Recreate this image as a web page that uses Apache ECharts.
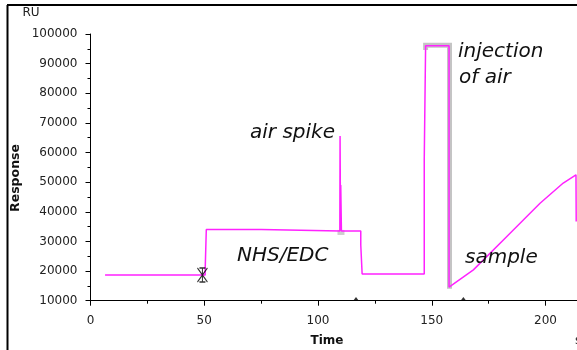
<!DOCTYPE html>
<html>
<head>
<meta charset="utf-8">
<script src="https://cdn.jsdelivr.net/npm/echarts@6/dist/echarts.min.js"></script>
<style>html,body{margin:0;padding:0;background:#fff}#c{width:577px;height:350px}</style>
</head>
<body>
<div id="c"></div>
<script>
// Sensorgram trace (time in s, response in RU)
const timeSec = [6.4, 50.4, 50.4, 50.9, 50.9, 75.0, 75.2, 109.6, 109.7, 109.9, 110.0, 110.3, 118.8, 118.8, 119.4, 119.4, 146.7, 146.7, 147.3, 147.3, 157.6, 157.6, 158.0, 168.3, 182.9, 197.6, 207.8, 213.4, 213.5];
const responseRU = [18700, 18700, 20200, 20200, 34000, 34000, 33500, 33500, 65600, 33500, 49000, 33500, 33500, 28800, 28800, 19000, 19000, 57500, 57500, 96000, 96000, 14600, 14700, 20400, 31600, 42900, 49700, 52500, 36700];
// highlighted (selected) air-injection segment
const highlightTime = [147.3, 147.3, 157.8, 157.8];
const highlightRU = [94600, 96200, 96200, 14000];
// markers
const spikeMarkTime = [110.1];
const spikeMarkRU = [33040];
const starMarkTime = [49.2];
const starMarkRU = [18700];
const triMarkTime = [116.7, 163.9];
const triMarkRU = [10570, 10570];
// axis ticks
const yMin = 10000, yMax = 100000, yStep = 10000;
const xMin = 0, xMax = 250, xStep = 50;

const zip = (a, b) => a.map((v, i) => [v, b[i]]);
const chart = echarts.init(document.getElementById('c'), null, {renderer: 'canvas'});
const FONT = 'DejaVu Sans';
const annot = (text, x, y) => ({
  type: 'text', x: x, y: y, z: 100,
  style: {text: text, fontFamily: FONT, fontSize: 20, fontStyle: 'italic', fill: '#111', align: 'left', verticalAlign: 'top'}
});
chart.setOption({
  animation: false,
  backgroundColor: '#fff',
  grid: {left: 90.5, top: 34, width: 568.75, height: 266.7, containLabel: false, outerBoundsMode: 'none'},
  xAxis: {
    type: 'value', min: xMin, max: xMax, interval: xStep,
    axisLine: {show: true, onZero: false, lineStyle: {color: '#000', width: 1}},
    axisTick: {show: true, length: 5, lineStyle: {color: '#000'}},
    minorTick: {show: true, splitNumber: 2, length: 3, lineStyle: {color: '#000'}},
    splitLine: {show: false},
    axisLabel: {color: '#222', fontFamily: FONT, fontSize: 12, margin: 14, formatter: v => String(v)}
  },
  yAxis: {
    type: 'value', min: yMin, max: yMax, interval: yStep,
    axisLine: {show: true, onZero: false, lineStyle: {color: '#000', width: 1}},
    axisTick: {show: true, length: 5, lineStyle: {color: '#000'}},
    minorTick: {show: true, splitNumber: 2, length: 3, lineStyle: {color: '#000'}},
    splitLine: {show: false},
    axisLabel: {color: '#222', fontFamily: FONT, fontSize: 12, margin: 13, formatter: v => String(v)}
  },
  series: [
    {type: 'line', data: zip(highlightTime, highlightRU), showSymbol: false, z: 1,
     lineStyle: {color: '#c4c4c4', width: 5, join: 'miter'}},
    {type: 'scatter', data: zip(spikeMarkTime, spikeMarkRU), symbol: 'rect', symbolSize: [7, 5], z: 1,
     itemStyle: {color: '#c0c0c0'}},
    {type: 'line', data: zip(timeSec, responseRU), showSymbol: false, z: 3,
     lineStyle: {color: '#ff22ff', width: 1.5}},
    {type: 'scatter', data: zip(starMarkTime, starMarkRU), z: 4,
     symbol: 'path://M0,0L10,14M10,0L0,14M5,0L5,14M2,0L8,0M2,14L8,14', symbolSize: [10, 14],
     itemStyle: {color: 'none', borderColor: '#000', borderWidth: 1.2}},
    {type: 'scatter', data: zip(triMarkTime, triMarkRU), symbol: 'triangle', symbolSize: [6, 4], z: 4,
     itemStyle: {color: '#000'}}
  ],
  graphic: [
    {type: 'line', shape: {x1: 7, y1: 5, x2: 577, y2: 5}, style: {stroke: '#000', lineWidth: 2}},
    {type: 'line', shape: {x1: 7.5, y1: 5, x2: 7.5, y2: 350}, style: {stroke: '#000', lineWidth: 2}},
    {type: 'text', x: 31, y: 13, style: {text: 'RU', fontFamily: FONT, fontSize: 12, fill: '#222', align: 'center', verticalAlign: 'middle'}},
    {type: 'text', x: 15.5, y: 178, rotation: Math.PI / 2, style: {text: 'Response', fontFamily: FONT, fontSize: 12.5, fontWeight: 'bold', fill: '#111', align: 'center', verticalAlign: 'middle'}},
    {type: 'text', x: 327, y: 341, style: {text: 'Time', fontFamily: FONT, fontSize: 12, fontWeight: 'bold', fill: '#111', align: 'center', verticalAlign: 'middle'}},
    {type: 'text', x: 575, y: 341, style: {text: 's', fontFamily: FONT, fontSize: 12, fill: '#222', align: 'left', verticalAlign: 'middle'}},
    annot('air spike', 250, 123),
    annot('NHS/EDC', 237, 246),
    annot('injection', 458, 42),
    annot('of air', 459, 68),
    annot('sample', 465, 248)
  ]
});
</script>
</body>
</html>
